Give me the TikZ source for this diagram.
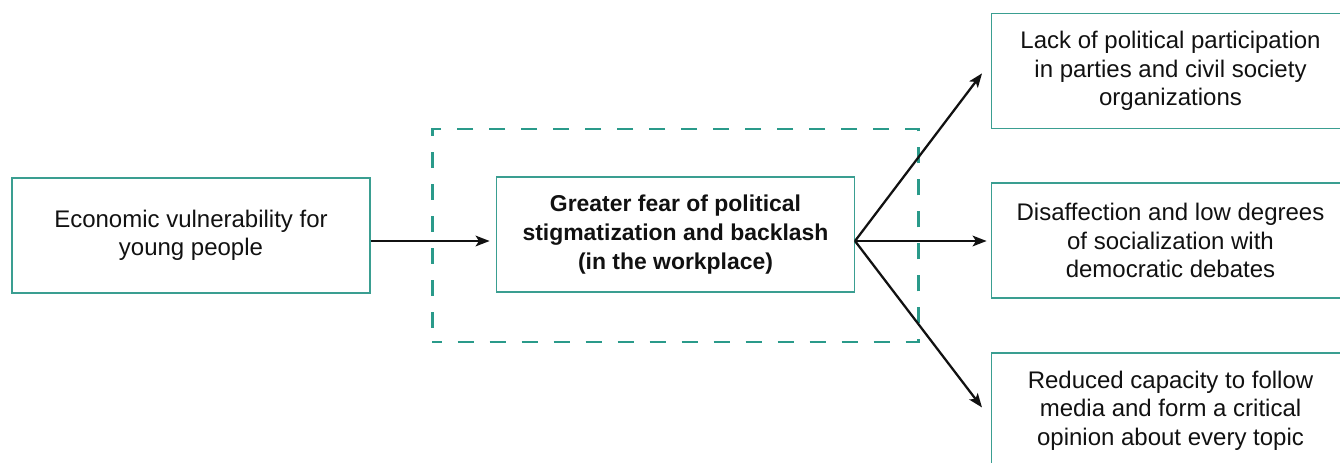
\documentclass[tikz,border=0pt]{standalone}
\usepackage{fontspec}
\setmainfont{Liberation Sans}
\usetikzlibrary{arrows.meta}

\definecolor{boxteal}{HTML}{3A9E91}
\definecolor{dashteal}{HTML}{2A9A8A}
\definecolor{inkblack}{HTML}{111111}

\begin{document}
\begin{tikzpicture}[x=0.75pt, y=-0.75pt, >={Stealth[length=10.5pt, width=8pt, inset=2.5pt]},
    causebox/.style={draw=boxteal, line width=1.3pt, minimum width=268.5pt,
        minimum height=86.25pt, inner sep=0pt, align=center, text=inkblack,
        font=\fontsize{18}{21.4}\selectfont},
    link/.style={line width=1.7pt, ->, draw=inkblack}]

            % page frame
            \useasboundingbox (0,0) rectangle (1340,462);
            \clip (0,0) rectangle (1340,462);

            % dashed zone round the central box
            \node[draw=dashteal, line width=2.2pt, dash pattern=on 12pt off 12pt,
                dash phase=5pt, minimum width=365pt, minimum height=159.75pt,
                inner sep=0pt] (zone) at (675.5,235.5) {};

            % boxes
            \node[causebox] (econ) at (191,235.5)
                {Economic vulnerability for\\young people};
            \node[causebox, font=\bfseries\fontsize{17.2}{22}\selectfont] (fear) at (675.5,234.5)
                {Greater fear of political\\stigmatization and backlash\\(in the workplace)};
            \node[causebox] (lack) at (1170.5,71)
                {Lack of political participation\\in parties and civil society\\organizations};
            \node[causebox] (disaff) at (1170.5,240.5)
                {Disaffection and low degrees\\of socialization with\\democratic debates};
            \node[causebox] (media) at (1170.5,410.5)
                {Reduced capacity to follow\\media and form a critical\\opinion about every topic};

            % arrows
            \coordinate (hub) at (855,241);
            \draw[link, shorten >=4.5pt] (econ.east |- hub) -- (fear.west |- hub);
            \draw[link, shorten >=10.7pt] (hub) -- ([yshift=6.75pt]lack.west);
            \draw[link, shorten >=3pt] (hub) -- (disaff.west |- hub);
            \draw[link, shorten >=10.7pt] (hub) -- ([yshift=-6.2pt]media.west);
        \end{tikzpicture}
\end{document}
